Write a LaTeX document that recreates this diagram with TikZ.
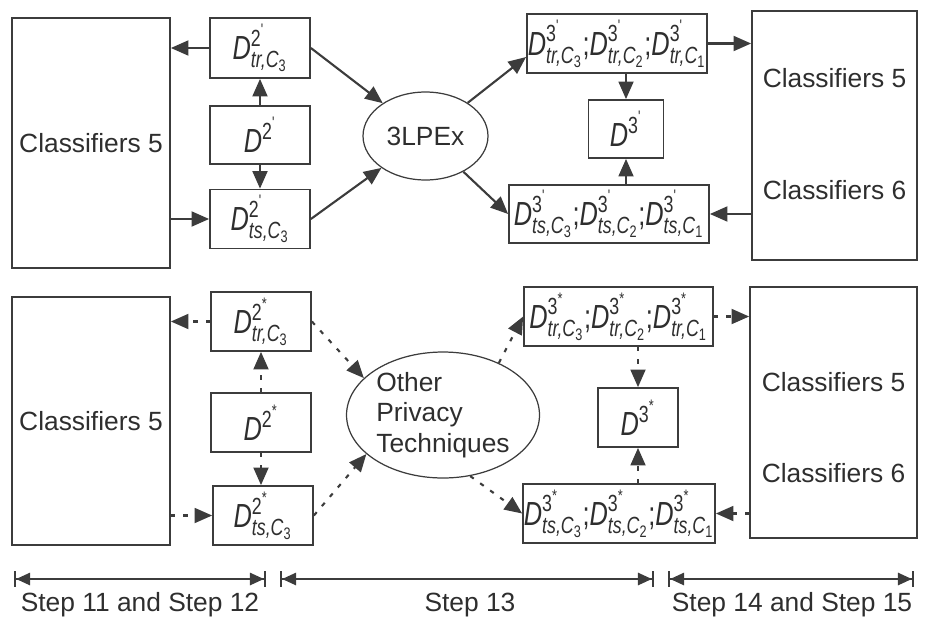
\documentclass[tikz,border=0pt]{standalone}
\usepackage{amsmath}
\usepackage{fontspec}
\setmainfont{Liberation Sans}
\newfontfamily\labfont[FakeStretch=0.76]{Liberation Sans}
\usetikzlibrary{arrows.meta,positioning,shapes.geometric}
\definecolor{pline}{HTML}{3C3C3C}
\definecolor{ptext}{HTML}{2E2E2E}
\newcommand{\dbase}[2]{$\textit{D}^{\text{#1}^{\text{#2}}}$}
\newcommand{\dpart}[4]{$\textit{D}^{\text{#1}^{\text{#2}}}_{\textit{#3,}\textit{C}_{\text{#4}}}$}

\begin{document}
\begin{tikzpicture}[x=0.02cm, y=-0.02cm,
        every node/.style={font=\fontsize{15}{17.5}\selectfont, text=ptext, align=center},
        bigbox/.style={draw=pline, line width=1pt, inner sep=0pt},
        dbox/.style={draw=pline, line width=1pt, inner sep=0.5pt,
              font=\labfont\fontsize{19}{21}\selectfont},
        oval/.style={draw=pline, line width=0.7pt, ellipse, inner sep=0pt},
        flow/.style={-{Triangle[length=10pt,width=8.5pt]}, line width=1.2pt, pline},
        dflow/.style={flow, dash pattern=on 2.5pt off 4.5pt},
        span/.style={{Bar[width=9pt]Triangle[length=8pt,width=7pt]}-{Triangle[length=8pt,width=7pt]Bar[width=9pt]},
              line width=1.2pt, pline}]
        \useasboundingbox (0,0) rectangle (935,619);
        \node[bigbox, minimum width=3.16cm, minimum height=5cm] (cls1) at (91,143) {Classifiers 5};
        \node[dbox, minimum width=2cm, minimum height=1.2cm] (dtr2) at (260,48) {\dpart{2}{'}{tr}{3}};
        \node[dbox, minimum width=2cm, minimum height=1.16cm] (d2) at (260,135) {\dbase{2}{'}};
        \node[dbox, minimum width=2cm, minimum height=1.18cm] (dts2) at (260,219) {\dpart{2}{'}{ts}{3}};
        \node[oval, minimum width=2.5cm, minimum height=1.76cm] (lpex) at (425.5,136) {3LPEx};
        \node[dbox, minimum width=3.6cm, minimum height=1.18cm] (dtr3) at (617,43.5)
              {\dpart{3}{'}{tr}{3};\dpart{3}{'}{tr}{2};\dpart{3}{'}{tr}{1}};
        \node[dbox, minimum width=1.5cm, minimum height=1.16cm] (d3) at (626,129) {\dbase{3}{'}};
        \node[dbox, minimum width=4cm, minimum height=1.16cm] (dts3) at (609,214)
              {\dpart{3}{'}{ts}{3};\dpart{3}{'}{ts}{2};\dpart{3}{'}{ts}{1}};
        \node[bigbox, minimum width=3.3cm, minimum height=4.98cm] (cls2) at (834.5,135.5) {};
        \node (c5top) at (834.5,78) {Classifiers 5};
        \node (c6top) at (834.5,190) {Classifiers 6};

        \node[bigbox, minimum width=3.16cm, minimum height=4.96cm] (cls3) at (91,421) {Classifiers 5};
        \node[dbox, minimum width=2cm, minimum height=1.18cm] (dtr2s) at (261,321.5) {\dpart{2}{*}{tr}{3}};
        \node[dbox, minimum width=2cm, minimum height=1.18cm] (d2s) at (261,422.5) {\dbase{2}{*}};
        \node[dbox, minimum width=2cm, minimum height=1.18cm] (dts2s) at (263,515.5) {\dpart{2}{*}{ts}{3}};
        \node[oval, minimum width=3.86cm, minimum height=2.52cm, align=left] (opt) at (443,415)
              {Other\\Privacy\\Techniques};
        \node[dbox, minimum width=3.78cm, minimum height=1.18cm] (dtr3s) at (618.5,316.5)
              {\dpart{3}{*}{tr}{3};\dpart{3}{*}{tr}{2};\dpart{3}{*}{tr}{1}};
        \node[dbox, minimum width=1.6cm, minimum height=1.18cm] (d3s) at (638,417.5) {\dbase{3}{*}};
        \node[dbox, minimum width=3.68cm, minimum height=1.18cm] (dts3s) at (619,513.5)
              {\dpart{3}{*}{ts}{3};\dpart{3}{*}{ts}{2};\dpart{3}{*}{ts}{1}};
        \node[bigbox, minimum width=3.34cm, minimum height=5.02cm] (cls4) at (833.5,412.5) {};
        \node (c5bot) at (833.5,382) {Classifiers 5};
        \node (c6bot) at (833.5,473) {Classifiers 6};

        \draw[flow] (dtr2.west) -- (dtr2.west -| cls1.east);
        \draw[flow] (cls1.east |- dts2.west) -- (dts2.west);
        \draw[flow] (d2) -- (dtr2);
        \draw[flow] (d2) -- (dts2);
        \draw[flow] (dtr2.east) -- (lpex);
        \draw[flow] (dts2.east) -- (lpex);
        \draw[flow] (lpex) -- ([yshift=-0.27cm]dtr3.west);
        \draw[flow] (lpex) -- (dts3.west);
        \draw[flow] (dtr3.east) -- (dtr3.east -| cls2.west);
        \draw[flow] (cls2.west |- dts3.east) -- (dts3.east);
        \draw[flow] (d3.north |- dtr3.south) -- (d3.north);
        \draw[flow] (d3.south |- dts3.north) -- (d3.south);

        \draw[dflow] (dtr2s.west) -- (dtr2s.west -| cls3.east);
        \draw[dflow] (cls3.east |- dts2s.west) -- (dts2s.west);
        \draw[dflow] (d2s.north) -- (d2s.north |- dtr2s.south);
        \draw[dflow] (d2s.south) -- (d2s.south |- dts2s.north);
        \draw[dflow] (dtr2s.east) -- (opt.155);
        \draw[dflow] (dts2s.east) -- (opt.207);
        \draw[dflow] (opt.43) -- (dtr3s.west);
        \draw[dflow] (opt.-66) -- (dts3s.west);
        \draw[dflow] (dtr3s.east) -- (dtr3s.east -| cls4.west);
        \draw[dflow] (cls4.west |- dts3s.east) -- (dts3s.east);
        \draw[dflow] (d3s.north |- dtr3s.south) -- (d3s.north);
        \draw[dflow] (d3s.south |- dts3s.north) -- (d3s.south);

        \coordinate (s1l) at (14,579);
        \coordinate (s1r) at (266,579);
        \coordinate (s2l) at (280,579);
        \coordinate (s2r) at (654,579);
        \coordinate (s3l) at (668,579);
        \coordinate (s3r) at (914,579);
        \draw[span] (s1l) -- (s1r);
        \draw[span] (s2l) -- (s2r);
        \draw[span] (s3l) -- (s3r);
        \node (st1) at (140,605) {Step 11 and Step 12};
        \node (st2) at (470,605) {Step 13};
        \node (st3) at (792,605) {Step 14 and Step 15};
\end{tikzpicture}
\end{document}
